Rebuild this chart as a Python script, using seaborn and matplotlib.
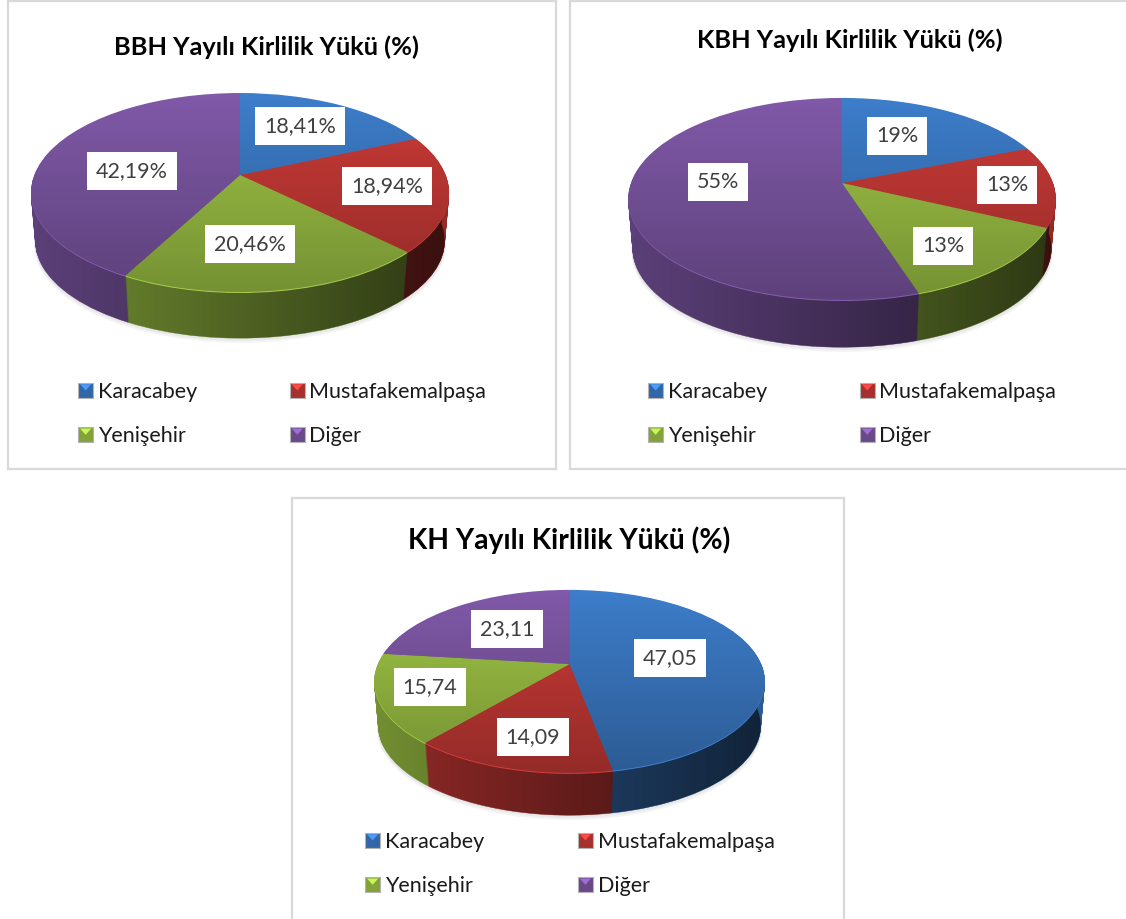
"""Yayili kirlilik yuku: three tilted pies"""
import numpy as np
import matplotlib
matplotlib.use('Agg')
import matplotlib.pyplot as plt
import matplotlib.transforms as mtransforms
from matplotlib.legend_handler import HandlerBase
from matplotlib.patches import Patch, Polygon, Rectangle
from matplotlib.path import Path
import seaborn as sns

W, H = 1126, 919

districts = ['Karacabey', 'Mustafakemalpaşa', 'Yenişehir', 'Diğer']
hex_colors = ['#3d7dca', '#cb3b37', '#a0c646', '#8059a8']

bbh_values = [18.41, 18.94, 20.46, 42.19]
kbh_values = [19, 13, 13, 55]
kh_values = [47.05, 14.09, 15.74, 23.11]

bbh_labels = ['18,41%', '18,94%', '20,46%', '42,19%']
kbh_labels = ['19%', '13%', '13%', '55%']
kh_labels = ['47,05', '14,09', '15,74', '23,11']

bbh_title = 'BBH Yayılı Kirlilik Yükü (%)'
kbh_title = 'KBH Yayılı Kirlilik Yükü (%)'
kh_title = 'KH Yayılı Kirlilik Yükü (%)'

sns.set_theme(style='white')
plt.rcParams['font.family'] = ['Lato', 'DejaVu Sans']
palette = sns.color_palette(hex_colors)


class Tilt(mtransforms.Transform):
    # unit disc -> tilted disc on the page, near edge bigger than far edge
    input_dims = 2
    output_dims = 2

    def __init__(self, cx, cy, a, b, k, dz=0):
        super().__init__()
        self.cx, self.cy, self.a, self.b, self.k, self.dz = cx, cy, a, b, k, dz

    def transform_non_affine(self, values):
        values = np.asarray(values)
        w = 1 + self.k * values[:, 1]
        x = self.cx + self.a * values[:, 0] / w
        y = self.cy - self.b * values[:, 1] / w + self.dz
        return np.column_stack([x, y])


class BevelHandler(HandlerBase):
    def create_artists(self, legend, orig, xd, yd, width, height, fontsize, trans):
        c = np.array(orig.get_facecolor()[:3])
        y0 = -yd + (height - 11) / 2
        x0 = -xd
        box = Rectangle((x0, y0), 11, 11, facecolor=c * 0.82, edgecolor='#b3b3b3',
                        linewidth=0.8, transform=trans)
        tri = Polygon([(x0 + 1.5, y0 + 10), (x0 + 9.5, y0 + 10), (x0 + 5.5, y0 + 5.5)],
                      facecolor=np.minimum(c * 1.25, 1), edgecolor='none', transform=trans)
        return [box, tri]


def outline(tilt, radius, start, stop):
    th = np.radians(np.linspace(start, stop, 181))
    return tilt.transform(np.column_stack([radius * np.cos(th), radius * np.sin(th)]))


def draw_chart(rect, title, title_xy, title_size, values, labels, label_xy, pie_geo, depth,
               legend_xy, legend_gap):
    x0, y0, x1, y1 = rect
    ax = fig.add_axes([x0 / W, 1 - y1 / H, (x1 - x0) / W, (y1 - y0) / H])
    cx, cy, a, b, k = pie_geo
    cx, cy = cx - x0, cy - y0

    # soft shadow under the pie
    for extra in [0, 2, 4]:
        wedges, _ = ax.pie([1], colors=['#666666'], radius=0.985,
                           wedgeprops=dict(linewidth=0, alpha=0.07))
        wedges[0].set_transform(Tilt(cx, cy, a, b, k, depth + extra) + ax.transData)
        wedges[0].set_zorder(0.5)

    # side wall: stack of pies, deepest first
    side_colors = [tuple(np.array(c) * 0.72) for c in palette]
    for dz in range(depth, 0, -1):
        wedges, _ = ax.pie(values, colors=side_colors, startangle=90, counterclock=False,
                           radius=1 - 0.02 * dz / depth, wedgeprops=dict(linewidth=0.3))
        for w, c in zip(wedges, side_colors):
            w.set_edgecolor(c)
            w.set_transform(Tilt(cx, cy, a, b, k, dz) + ax.transData)
            w.set_zorder(1)

    # side wall gets darker to the right
    side_pts = np.vstack([outline(Tilt(cx, cy, a, b, k, 0), 1, 180, 360),
                          outline(Tilt(cx, cy, a, b, k, depth), 0.98, 360, 180)])
    grad = np.zeros((2, 256, 4))
    grad[:, :, 3] = np.linspace(0.0, 0.62, 256)
    im = ax.imshow(grad, extent=(cx - a * 1.03, cx + a * 1.03, cy + b * 2, cy - b * 2),
                   aspect='auto', zorder=1.5, interpolation='bilinear')
    im.set_clip_path(Path(side_pts), ax.transData)

    # thin light rim, then the top face
    rim_colors = [tuple(np.minimum(np.array(c) * 1.05, 1)) for c in palette]
    wedges, _ = ax.pie(values, colors=rim_colors, startangle=90, counterclock=False,
                       wedgeprops=dict(linewidth=0))
    for w in wedges:
        w.set_transform(Tilt(cx, cy, a, b, k, 1) + ax.transData)
        w.set_zorder(2)
    wedges, _ = ax.pie(values, colors=palette, startangle=90, counterclock=False,
                       wedgeprops=dict(linewidth=0))
    for w in wedges:
        w.set_transform(Tilt(cx, cy, a, b, k, 0) + ax.transData)
        w.set_zorder(2.1)

    # top face gets darker toward the viewer
    top_pts = outline(Tilt(cx, cy, a, b, k, 0), 1, 0, 360)
    grad = np.zeros((256, 2, 4))
    grad[:, :, 3] = np.linspace(0.0, 0.27, 256)[:, None]
    im = ax.imshow(grad, extent=(cx - a * 1.05, cx + a * 1.05, top_pts[:, 1].max(), top_pts[:, 1].min()),
                   aspect='auto', zorder=2.5, interpolation='bilinear')
    im.set_clip_path(Path(top_pts), ax.transData)

    for txt, (lx, ly) in zip(labels, label_xy):
        ax.text(lx - x0, ly - y0, txt, ha='center', va='center', fontsize=15.5, color='#404040',
                zorder=5, bbox=dict(boxstyle='square,pad=0.42', fc='white', ec='none'))

    ax.text(title_xy[0] - x0, title_xy[1] - y0, title, ha='center', va='center',
            fontsize=title_size, fontweight='bold', color='black')

    handles = [Patch(facecolor=c, label=d) for c, d in zip(palette, districts)]
    # legend fills column by column
    order = [0, 2, 1, 3]
    ax.legend([handles[i] for i in order], [districts[i] for i in order], ncol=2,
              handler_map={Patch: BevelHandler()}, frameon=False, fontsize=15.5,
              loc='upper left', bbox_to_anchor=(legend_xy[0] - x0, legend_xy[1] - y0),
              bbox_transform=ax.transData, borderpad=0, borderaxespad=0,
              handlelength=0.7, handletextpad=0.22, columnspacing=legend_gap,
              labelspacing=1.13, labelcolor='#1a1a1a')

    ax.set_aspect('auto')
    ax.set_xlim(0, x1 - x0)
    ax.set_ylim(y1 - y0, 0)
    ax.set_frame_on(True)
    ax.set_xticks([])
    ax.set_yticks([])
    for s in ax.spines.values():
        s.set_visible(True)
        s.set_color('#d9d9d9')
        s.set_linewidth(1.6)


fig = plt.figure(figsize=(W / 100, H / 100), dpi=100, facecolor='white')

draw_chart((8, 1, 556, 469), bbh_title, (267, 47), 18.3, bbh_values, bbh_labels,
           [(300, 126), (387, 186), (250, 244), (132, 171)],
           (240, 175, 205.7, 96.4, 0.176), 49, (78, 382), 4.3)
draw_chart((570, 1, 1132, 469), kbh_title, (850, 40), 18.3, kbh_values, kbh_labels,
           [(897, 136), (1007, 185), (943, 246), (718, 182)],
           (842, 183, 211, 98.5, 0.158), 50, (648, 382), 4.3)
draw_chart((292, 498, 844, 925), kh_title, (569, 540), 20.3, kh_values, kh_labels,
           [(670, 658), (533, 737), (430, 687), (507, 629)],
           (569.5, 664, 191.7, 88.2, 0.19), 45, (365, 832), 4.35)

plt.savefig('out.png', dpi=100)
